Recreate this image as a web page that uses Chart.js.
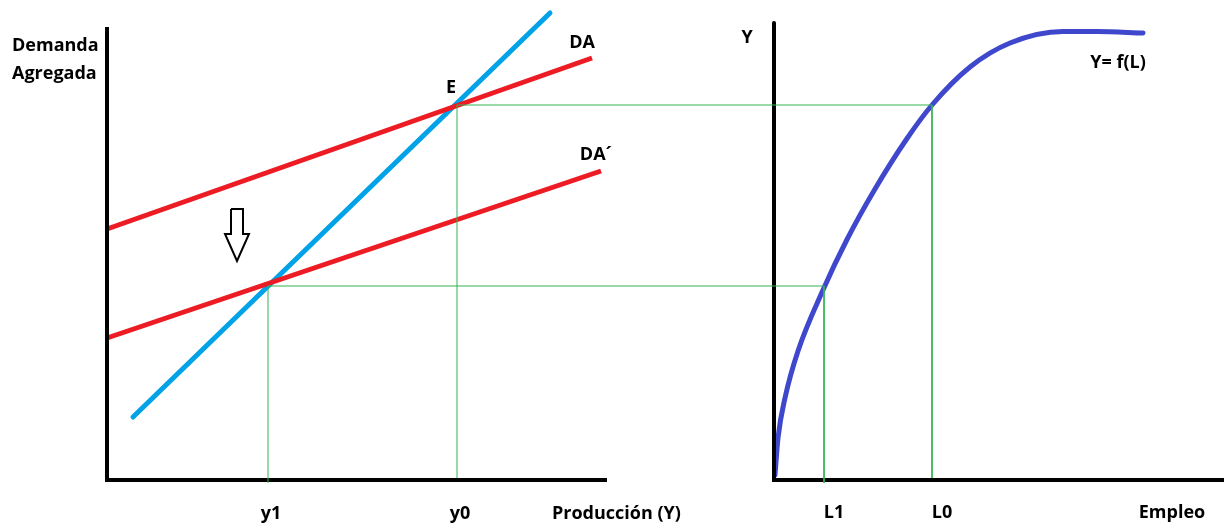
<!DOCTYPE html>
<html>
<head>
<meta charset="utf-8">
<script src="https://cdn.jsdelivr.net/npm/chart.js@4/dist/chart.umd.min.js"></script>
<style>
  html, body { margin: 0; padding: 0; background: #ffffff; }
  canvas { display: block; }
</style>
</head>
<body>
<canvas id="c" width="1224" height="528"></canvas>
<script>
// ---------- DATA (abstract units) ----------
// Left panel: Producción (Y) vs Demanda Agregada
const prodTickLabels = ['y1', 'y0'];
const prodValues = [32.2, 70];            // y1, y0 on production axis
const eqLevels = [38.4, 74.6];            // output level at each equilibrium
const daX = [0, 97];
const daY = [49.8, 84];
const da2X = [0, 98.8];
const da2Y = [28, 61.4];
const ofertaX = [5.2, 88.6];
const ofertaY = [12.2, 93];

// Right panel: Empleo vs Y = f(L)
const empTickLabels = ['L1', 'L0'];
const empValues = [10, 31.6];             // L1, L0
const prodFnL = [0.2, 0.8, 2.2, 4.8, 9.8, 14.6, 20.2, 26.6, 31.6, 39.2, 47.2, 57.8, 64.6, 73.8];
const prodFnY = [0.6, 8.0, 16.0, 25.4, 37.6, 47.7, 57.8, 67.9, 74.6, 82.2, 87.0, 89.3, 89.3, 89.0];

// Axis extents
const leftAxisMaxX = 100, leftAxisMaxY = 90.2;
const rightAxisMaxX = 90, rightAxisMaxY = 91;

// ---------- LAYOUT ----------
const RIGHT_X0 = 133.4;   // where the right panel's origin sits on the shared x scale
const toXY = (xs, ys, off = 0) => xs.map((x, i) => ({ x: x + off, y: ys[i] }));

const RED = 'rgb(237,28,36)';
const BLUE = 'rgb(0,162,232)';
const INDIGO = 'rgb(63,72,204)';
const GREEN = 'rgb(50,180,80)';
const BLACK = '#000000';

function line(data, color, width, extra = {}) {
  return Object.assign({
    data, borderColor: color, borderWidth: width, showLine: true,
    pointRadius: 0, fill: false, clip: false, tension: 0,
    borderCapStyle: 'round', borderJoinStyle: 'round'
  }, extra);
}

const datasets = [];
// green guide lines (drawn first, below everything)
prodValues.forEach((v, i) => {
  datasets.push(line([{ x: v, y: i === 0 ? -1 : 0 }, { x: v, y: eqLevels[i] }], GREEN, 1, { borderCapStyle: 'butt' }));
  datasets.push(line([{ x: v, y: eqLevels[i] }, { x: RIGHT_X0 + empValues[i], y: eqLevels[i] }], GREEN, 1, { borderCapStyle: 'butt' }));
  datasets.push(line([{ x: RIGHT_X0 + empValues[i], y: eqLevels[i] }, { x: RIGHT_X0 + empValues[i], y: i === 0 ? -1 : 0 }], GREEN, 1, { borderCapStyle: 'butt' }));
});
// axes
datasets.push(line([{ x: 0, y: leftAxisMaxY }, { x: 0, y: -0.4 }, { x: leftAxisMaxX, y: -0.4 }], BLACK, 4, { borderCapStyle: 'butt', borderJoinStyle: 'miter' }));
datasets.push(line([{ x: RIGHT_X0, y: rightAxisMaxY }, { x: RIGHT_X0, y: -0.4 }, { x: RIGHT_X0 + rightAxisMaxX, y: -0.4 }], BLACK, 4, { borderJoinStyle: 'miter' }));
// curves
datasets.push(line(toXY(daX, daY), RED, 5, { borderCapStyle: 'butt' }));
datasets.push(line(toXY(da2X, da2Y), RED, 5, { borderCapStyle: 'butt' }));
datasets.push(line(toXY(ofertaX, ofertaY), BLUE, 5));
datasets.push(line(toXY(prodFnL, prodFnY, RIGHT_X0), INDIGO, 5, { cubicInterpolationMode: 'monotone', tension: 0.4 }));
// downward arrow outline
const arrowX = [24.8, 27.2, 27.2, 28.4, 26.0, 23.6, 24.8, 24.8];
const arrowY = [53.8, 53.8, 48.8, 48.8, 43.4, 48.8, 48.8, 53.8];
datasets.push(line(toXY(arrowX, arrowY), BLACK, 2, { borderJoinStyle: 'miter', borderCapStyle: 'butt' }));

// ---------- TEXT ----------
const labels = [
  { t: 'Demanda', x: -19, y: 85.4, a: 'left' },
  { t: 'Agregada', x: -19, y: 79.8, a: 'left' },
  { t: 'DA', x: 95, y: 86, a: 'center' },
  { t: 'E', x: 68.8, y: 77, a: 'center' },
  { t: 'DA\u00B4', x: 97.8, y: 63.6, a: 'center' },
  { t: 'Producción (Y)', x: 89, y: -8.2, a: 'left' },
  { t: 'Y', x: RIGHT_X0 - 5.4, y: 87, a: 'center' },
  { t: 'Y= f(L)', x: RIGHT_X0 + 68.8, y: 82, a: 'center' },
  { t: 'Empleo', x: RIGHT_X0 + 79.6, y: -8, a: 'center' }
];
prodTickLabels.forEach((t, i) => labels.push({ t, x: prodValues[i] + 0.6, y: -8.2, a: 'center' }));
empTickLabels.forEach((t, i) => labels.push({ t, x: RIGHT_X0 + empValues[i] + 2, y: -8, a: 'center' }));

const textPlugin = {
  id: 'texts',
  afterDatasetsDraw(chart) {
    const { ctx, scales } = chart;
    ctx.save();
    ctx.fillStyle = '#000';
    ctx.font = 'bold 18px "Open Sans"';
    ctx.textBaseline = 'alphabetic';
    labels.forEach(l => {
      ctx.textAlign = l.a;
      ctx.fillText(l.t, scales.x.getPixelForValue(l.x), scales.y.getPixelForValue(l.y));
    });
    ctx.restore();
  }
};

new Chart(document.getElementById('c'), {
  type: 'scatter',
  data: { datasets },
  options: {
    responsive: false,
    animation: false,
    devicePixelRatio: 1,
    layout: { padding: 0 },
    plugins: { legend: { display: false }, tooltip: { enabled: false } },
    scales: {
      x: { type: 'linear', display: false, min: -21.4, max: 223.4 },
      y: { type: 'linear', display: false, min: -10, max: 95.6 }
    }
  },
  plugins: [textPlugin]
});
</script>
</body>
</html>
